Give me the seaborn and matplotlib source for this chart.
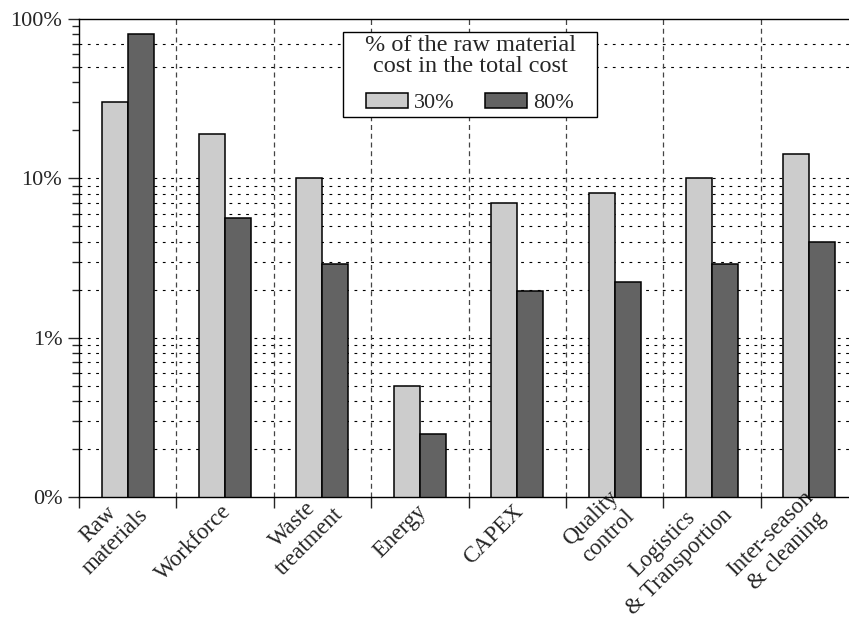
import numpy as np
import pandas as pd
import matplotlib
matplotlib.use("Agg")
import matplotlib.pyplot as plt
import matplotlib.transforms as mtransforms
from matplotlib.patches import Rectangle
import seaborn as sns
from matplotlib.ticker import FixedLocator, NullFormatter

# Data (percent of total cost)
categories = ["Raw\nmaterials", "Workforce", "Waste\ntreatment", "Energy", "CAPEX",
              "Quality\ncontrol", "Logistics\n& Transportion", "Inter-season\n& cleaning"]
share_30 = [30, 19, 10, 0.5, 7.05, 8.05, 10, 14.2]
share_80 = [80, 5.6, 2.9, 0.25, 1.95, 2.25, 2.9, 4.0]
series_labels = ["30%", "80%"]
series_colors = ["#cccccc", "#636363"]

y_tick_values = [0.1, 1, 10, 100]
y_tick_labels = ["0%", "1%", "10%", "100%"]
# horizontal dotted grid levels as drawn in the original figure
grid_levels = [0.2, 0.3, 0.4, 0.5, 0.6, 0.7, 0.8, 0.9,
               1, 2, 3, 4, 5, 6, 7, 8, 9, 10, 50, 70]


def main():
    df = pd.DataFrame({
        "category": categories * 2,
        "share": share_30 + share_80,
        "series": [series_labels[0]] * len(categories) + [series_labels[1]] * len(categories),
    })

    sns.set_style("white")
    plt.rcParams["font.family"] = ["Liberation Serif", "DejaVu Serif"]
    plt.rcParams["font.size"] = 16

    fig = plt.figure(figsize=(8.49, 6.18), dpi=100)
    ax = fig.add_axes([79 / 849, 1 - 497 / 618, (858 - 79) / 849, (497 - 19) / 618])
    ax.set_yscale("log")

    sns.barplot(data=df, x="category", y="share", hue="series", order=categories,
                palette=series_colors, width=0.534, edgecolor="black", linewidth=1.1,
                saturation=1, ax=ax, zorder=3)

    ax.set_ylim(0.1, 100)
    ax.set_xlim(-0.5, len(categories) - 0.5)

    # y axis ticks
    ax.yaxis.set_major_locator(FixedLocator(y_tick_values))
    ax.set_yticklabels(y_tick_labels)
    minor = [m * 10.0 ** e for e in (-1, 0, 1) for m in range(2, 10)]
    ax.yaxis.set_minor_locator(FixedLocator(minor))
    ax.yaxis.set_minor_formatter(NullFormatter())
    ax.tick_params(axis="y", which="major", direction="out", length=8, width=1,
                   left=True, right=False, labelsize=16, pad=4)
    ax.tick_params(axis="y", which="minor", direction="out", length=5, width=1,
                   left=True, right=False)

    # x axis: ticks at group boundaries, rotated category names at group centres
    n = len(categories)
    bounds = np.arange(n + 1) - 0.5
    ax.set_xticks(bounds)
    ax.set_xticklabels([""] * len(bounds))
    ax.tick_params(axis="x", which="major", direction="out", length=8, width=1,
                   bottom=True, top=False)
    for i, name in enumerate(categories):
        if "\n" in name:
            dx, dy = 9, -6
        else:
            dx, dy = 3, -11
        tr = mtransforms.offset_copy(ax.get_xaxis_transform(), fig=fig,
                                     x=dx, y=dy, units="dots")
        ax.text(i, 0, name, transform=tr, rotation=45, ha="right", va="center",
                rotation_mode="anchor", multialignment="center", fontsize=16.5,
                clip_on=False)
    ax.set_xlabel("")
    ax.set_ylabel("")

    # grid
    for lv in grid_levels:
        ax.axhline(lv, color="black", linestyle=(0, (2.5, 5)), linewidth=0.8, zorder=1)
    for b in bounds[1:-1]:
        ax.axvline(b, color="#444444", linestyle=(0, (4, 3)), linewidth=0.9, zorder=1)

    for side in ["left", "top", "bottom", "right"]:
        ax.spines[side].set_color("black")
        ax.spines[side].set_linewidth(1.0)
        ax.spines[side].set_zorder(5)

    # legend (frame drawn separately: the original box has wide side margins)
    handles, labels = ax.get_legend_handles_labels()
    leg = ax.legend(handles, labels, title="% of the raw material\ncost in the total cost",
                    ncol=2, loc="upper center", bbox_to_anchor=(470 / 849, 1 - 32 / 618),
                    bbox_transform=fig.transFigure, fontsize=16, title_fontsize=17.5,
                    frameon=False, handlelength=1.9, handleheight=0.7,
                    columnspacing=1.35, handletextpad=0.27, borderpad=0.15,
                    labelspacing=0.7, borderaxespad=0)
    leg.get_title().set_multialignment("center")
    leg.get_title().set_linespacing(1.0)
    leg.set_zorder(10)

    fig.canvas.draw()
    bb = leg.get_window_extent(fig.canvas.get_renderer())
    side_pad = 18
    frame = Rectangle((bb.x0 - side_pad, bb.y0), bb.width + 2 * side_pad, bb.height,
                      transform=None, facecolor="white", edgecolor="black",
                      linewidth=1.0, zorder=9)
    ax.add_artist(frame)
    frame.set_clip_on(False)

    fig.savefig("out.png", dpi=100)
    plt.close(fig)


if __name__ == "__main__":
    main()
